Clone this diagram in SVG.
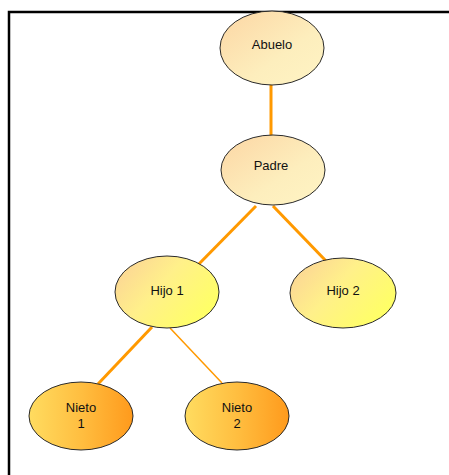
<svg xmlns="http://www.w3.org/2000/svg" width="449" height="475" viewBox="0 0 449 475">
<defs>
<linearGradient id="gPale" x1="0" y1="0" x2="1" y2="1">
<stop offset="0" stop-color="#fcd6a4"/>
<stop offset="0.6" stop-color="#fdeebd"/>
<stop offset="1" stop-color="#fff4c4"/>
</linearGradient>
<linearGradient id="gHijo" x1="0" y1="0" x2="1" y2="0.6">
<stop offset="0" stop-color="#fbcf98"/>
<stop offset="0.5" stop-color="#fff08a"/>
<stop offset="1" stop-color="#ffff66"/>
</linearGradient>
<linearGradient id="gNieto" x1="0" y1="0" x2="1" y2="0">
<stop offset="0" stop-color="#ffdc60"/>
<stop offset="0.5" stop-color="#ffbe40"/>
<stop offset="1" stop-color="#ff9a1c"/>
</linearGradient>
</defs>
<style>
.node ellipse{stroke:#2a2a2a;stroke-width:1}
.node text{font-family:"Liberation Sans","DejaVu Sans",sans-serif;font-size:13px;fill:#111;text-anchor:middle}
.edge{stroke:#ff9900;stroke-width:3;fill:none}
.thin{stroke-width:1.5}
</style>
<rect width="449" height="475" fill="#fff"/>
<path d="M9 475 V12 H449" fill="none" stroke="#000" stroke-width="2.5"/>
<g id="connectors">
<line class="edge" x1="271" y1="84" x2="271" y2="137"/>
<line class="edge" x1="256" y1="206" x2="193" y2="270"/>
<line class="edge" x1="273" y1="206" x2="327" y2="262"/>
<line class="edge" x1="152" y1="327" x2="98" y2="384"/>
<line class="edge thin" x1="170" y1="328" x2="222" y2="383"/>
</g>
<g id="abuelo" class="node">
<ellipse cx="272" cy="48" rx="52" ry="37" fill="url(#gPale)"/>
<text x="272" y="49">Abuelo</text>
</g>
<g id="padre" class="node">
<ellipse cx="273" cy="170" rx="52" ry="35" fill="url(#gPale)"/>
<text x="271" y="170">Padre</text>
</g>
<g id="hijo1" class="node">
<ellipse cx="167" cy="292" rx="52" ry="36" fill="url(#gHijo)"/>
<text x="167" y="295">Hijo 1</text>
</g>
<g id="hijo2" class="node">
<ellipse cx="343" cy="293" rx="53" ry="35" fill="url(#gHijo)"/>
<text x="343" y="295">Hijo 2</text>
</g>
<g id="nieto1" class="node">
<ellipse cx="81" cy="416" rx="52" ry="34" fill="url(#gNieto)"/>
<text x="81" y="412">Nieto</text>
<text x="81" y="428">1</text>
</g>
<g id="nieto2" class="node">
<ellipse cx="237" cy="416" rx="52" ry="34" fill="url(#gNieto)"/>
<text x="237" y="412">Nieto</text>
<text x="237" y="428">2</text>
</g>
</svg>
